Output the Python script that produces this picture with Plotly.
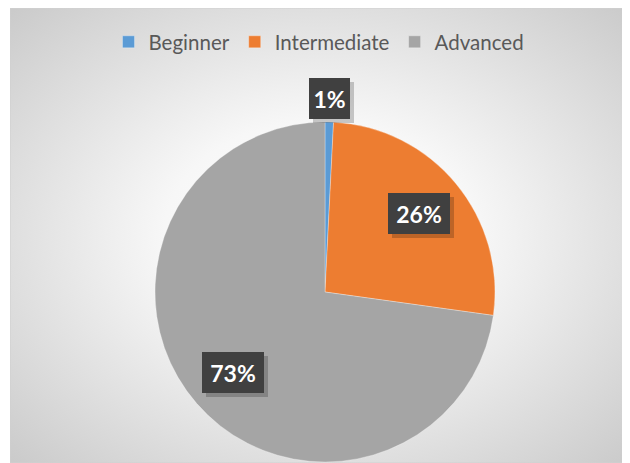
import math
import urllib.parse
import plotly.graph_objects as go

# ---- data ----
categories = ["Beginner", "Intermediate", "Advanced"]
values = [0.8, 26.4, 72.8]
colors = ["#5B9BD5", "#ED7D31", "#A5A5A5"]

# ---- layout constants ----
W, H = 622, 455
PIE_CX, PIE_CY, PIE_R = 317, 284, 170  # pixels in figure coords (from top-left)

dom_x = [(PIE_CX - PIE_R) / W, (PIE_CX + PIE_R) / W]
dom_y = [1 - (PIE_CY + PIE_R) / H, 1 - (PIE_CY - PIE_R) / H]

fig = go.Figure()
fig.add_trace(go.Pie(
    labels=categories,
    values=values,
    sort=False,
    direction="clockwise",
    rotation=0,
    marker=dict(colors=colors, line=dict(color="rgba(255,255,255,0.6)", width=0.5)),
    textinfo="none",
    hoverinfo="label+percent",
    domain=dict(x=dom_x, y=dom_y),
))

# background radial gradient via svg
svg = (
    '<svg xmlns="http://www.w3.org/2000/svg" width="620" height="457" preserveAspectRatio="none">'
    '<defs><radialGradient id="g" cx="50%" cy="50%" r="72%">'
    '<stop offset="0%" stop-color="#ffffff"/>'
    '<stop offset="35%" stop-color="#f7f7f7"/>'
    '<stop offset="100%" stop-color="#c9c9c9"/>'
    '</radialGradient></defs>'
    '<rect width="620" height="457" fill="url(#g)" stroke="#d0d0d0" stroke-width="1"/></svg>'
)
src = "data:image/svg+xml;charset=utf-8," + urllib.parse.quote(svg)

annotations = []
total = sum(values)
cum = 0.0
for cat, v in zip(categories, values):
    frac = v / total
    mid = (cum + frac / 2) * 2 * math.pi
    cum += frac
    f = 1.14 if frac < 0.05 else 0.72
    px = PIE_CX + f * PIE_R * math.sin(mid)
    py = PIE_CY - f * PIE_R * math.cos(mid)
    x = px / W
    y = 1 - py / H
    txt = f"{round(frac * 100)}%"
    w = 41 if len(txt) == 2 else 62
    # shadow
    annotations.append(dict(
        x=x, y=y, xref="paper", yref="paper", text=" ", showarrow=False,
        xanchor="center", yanchor="middle",
        width=w, height=41, bgcolor="rgba(0,0,0,0.2)", xshift=4, yshift=-4,
        borderpad=0, borderwidth=0,
    ))
    annotations.append(dict(
        x=x, y=y, xref="paper", yref="paper", text=f"<b>{txt}</b>", showarrow=False,
        xanchor="center", yanchor="middle",
        width=w, height=41, bgcolor="#404040", borderpad=0, borderwidth=0,
        font=dict(family="Lato", size=23, color="#ffffff"),
    ))

fig.update_layout(
    width=W, height=H,
    margin=dict(l=0, r=0, t=0, b=0),
    paper_bgcolor="#ffffff",
    images=[dict(source=src, xref="paper", yref="paper", x=2 / W, y=1, sizex=(W - 2) / W,
                 sizey=1, xanchor="left", yanchor="top", sizing="stretch", layer="below")],
    showlegend=True,
    legend=dict(orientation="h", x=0.5, xanchor="center", y=1 - 14 / H, yanchor="top",
                font=dict(family="Lato", size=20.5, color="#595959"),
                bgcolor="rgba(0,0,0,0)", itemwidth=30, traceorder="normal"),
    annotations=annotations,
)

fig.write_html("out.html")
